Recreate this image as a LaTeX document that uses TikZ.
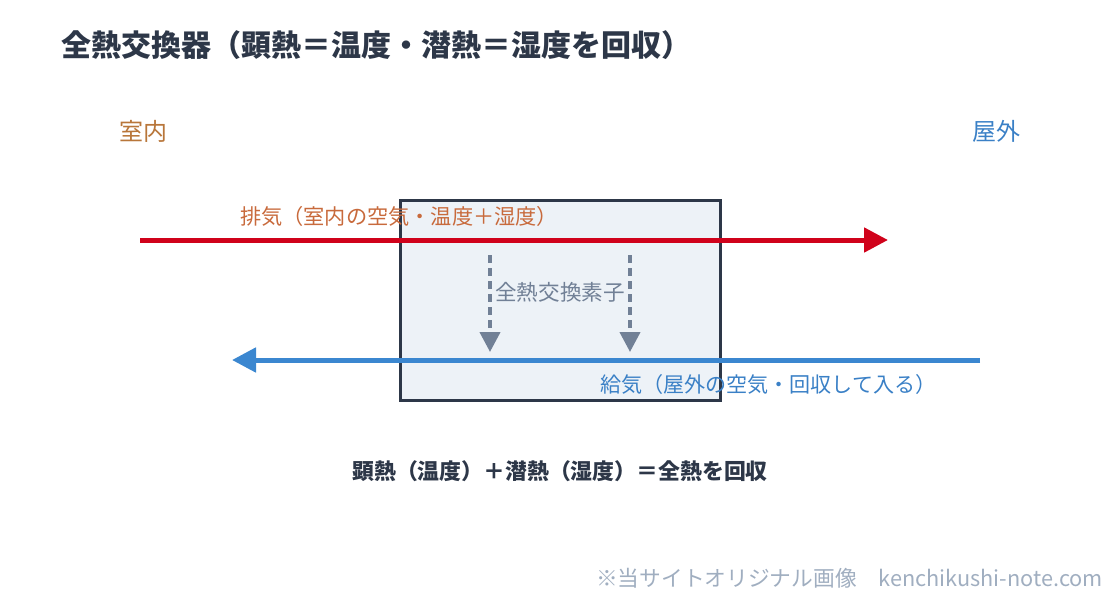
\documentclass[tikz,border=0pt]{standalone}
\usepackage{fontspec}
\setmainfont{Noto Sans CJK JP}
\usetikzlibrary{arrows.meta}
\definecolor{navy}{HTML}{2D3748}
\definecolor{boxfill}{HTML}{EDF2F7}
\definecolor{redarrow}{HTML}{D0021B}
\definecolor{redtext}{HTML}{C86A3C}
\definecolor{intext}{HTML}{B8763A}
\definecolor{bluearrow}{HTML}{3B87D0}
\definecolor{bluetext}{HTML}{3A80C6}
\definecolor{graytxt}{HTML}{718096}
\definecolor{wm}{HTML}{A0AEC0}
\tikzset{
  px/.style={x=0.75pt,y=-0.75pt},
  txt/.style={inner sep=0pt,outer sep=0pt},
  flow/.style={line width=3.75pt},
  transfer/.style={line width=3pt,graytxt,dash pattern=on 6pt off 3.75pt,-{Triangle[length=15pt,width=15pt]}},
}
\newcommand{\fs}[1]{\fontsize{#1}{#1}\selectfont}
\begin{document}
\begin{tikzpicture}[px]
\useasboundingbox (0,0) rectangle (1120,600);
% title
\node[txt,anchor=west,text=navy,font=\fs{22.5pt}\bfseries] (title) at (61,45) {全熱交換器（顕熱＝温度・潜熱＝湿度を回収）};
% sides
\node[txt,text=intext,font=\fs{18pt}] (inside) at (143.5,131) {室内};
\node[txt,text=bluetext,font=\fs{18pt}] (outside) at (996,131) {屋外};
% box
\node[draw=navy,line width=2.25pt,fill=boxfill,minimum width=240pt,minimum height=150pt,inner sep=0pt] (elem) at (560,300) {};
% exhaust
\coordinate (exA) at (140,240);
\coordinate (exB) at (888,240);
\draw[flow,redarrow,-{Triangle[length=18pt,width=18pt]}] (exA) -- (exB);
\node[txt,anchor=west,text=redtext,font=\fs{15.9pt}] (exlabel) at (240,216) {排気（室内の空気・温度＋湿度）};
% supply
\coordinate (suA) at (980,360);
\coordinate (suB) at (232,360);
\draw[flow,bluearrow,-{Triangle[length=18pt,width=18pt]}] (suA) -- (suB);
\node[txt,anchor=west,text=bluetext,font=\fs{15.8pt}] (sulabel) at (600,384) {給気（屋外の空気・回収して入る）};
% transfer arrows
\coordinate (t1a) at (490,255);
\coordinate (t1b) at (490,352);
\coordinate (t2a) at (630,255);
\coordinate (t2b) at (630,352);
\draw[transfer] (t1a) -- (t1b);
\draw[transfer] (t2a) -- (t2b);
\node[txt,text=graytxt,font=\fs{16.2pt}] (elemlabel) at (560,292) {全熱交換素子};
% summary
\node[txt,text=navy,font=\fs{16.4pt}\bfseries] (summary) at (560,471) {顕熱（温度）＋潜熱（湿度）＝全熱を回収};
% watermark
\node[txt,anchor=east,text=wm,font=\fs{16.3pt}] (mark) at (1103,578) {※当サイトオリジナル画像　kenchikushi-note.com};
\end{tikzpicture}
\end{document}
